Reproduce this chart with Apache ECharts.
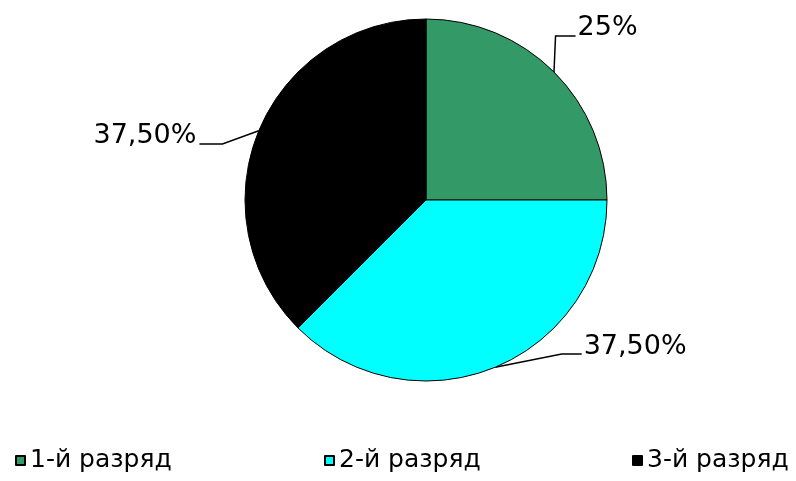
<!DOCTYPE html>
<html>
<head>
<meta charset="utf-8">
<script src="https://cdn.jsdelivr.net/npm/echarts@6/dist/echarts.min.js"></script>
<style>
  html, body { margin: 0; padding: 0; background: #fff; }
  #chart { width: 796px; height: 481px; }
</style>
</head>
<body>
<div id="chart"></div>
<script>
// категории и доли (%)
var categories = ['1-й разряд', '2-й разряд', '3-й разряд'];
var shares = [25, 37.5, 37.5];
var colors = ['#339966', '#00ffff', '#000000'];

function fmtPercent(v) {
    return (Number.isInteger(v) ? String(v) : v.toFixed(2).replace('.', ',')) + '%';
}

// сдвиг подписей относительно стандартного положения
var labelShift = [[-22, -28], [50, -41], [-12, 14]];

var myChart = echarts.init(document.getElementById('chart'));

var pieData = categories.map(function (name, i) {
    return { name: name, value: shares[i], itemStyle: { color: colors[i] } };
});

var legendLeft = [15, 324, 632];
var legends = categories.map(function (name, i) {
    return {
        data: [name],
        left: legendLeft[i],
        top: 448,
        padding: 0,
        icon: 'rect',
        itemWidth: 9,
        itemHeight: 9,
        selectedMode: false,
        textStyle: {
            fontFamily: 'DejaVu Sans',
            fontSize: 25,
            color: '#000'
        }
    };
});

var option = {
    backgroundColor: '#fff',
    animation: false,
    legend: legends,
    series: [
        {
            type: 'pie',
            center: [426, 200],
            radius: 181,
            startAngle: 90,
            clockwise: true,
            data: pieData,
            itemStyle: {
                borderColor: '#000',
                borderWidth: 1
            },
            label: {
                show: true,
                position: 'outside',
                formatter: function (p) { return fmtPercent(p.value); },
                fontFamily: 'DejaVu Sans',
                fontSize: 27,
                color: '#000'
            },
            labelLine: {
                show: true,
                length: 22,
                length2: 25,
                lineStyle: { color: '#000', width: 1.5 }
            },
            labelLayout: function (params) {
                var s = labelShift[params.dataIndex];
                var r = params.labelRect;
                var edge = params.labelLinePoints[0];
                var nx = r.x + s[0], ny = r.y + s[1];
                var lineY = ny + r.height * 0.78;
                var rightSide = nx > edge[0];
                var endX = rightSide ? nx - 2 : nx + r.width + 3;
                var elbowX = rightSide ? endX - 20 : endX + 23;
                return {
                    dx: s[0],
                    dy: s[1],
                    labelLinePoints: [edge, [elbowX, lineY], [endX, lineY]]
                };
            },
            emphasis: { disabled: true }
        }
    ]
};

myChart.setOption(option);
</script>
</body>
</html>
